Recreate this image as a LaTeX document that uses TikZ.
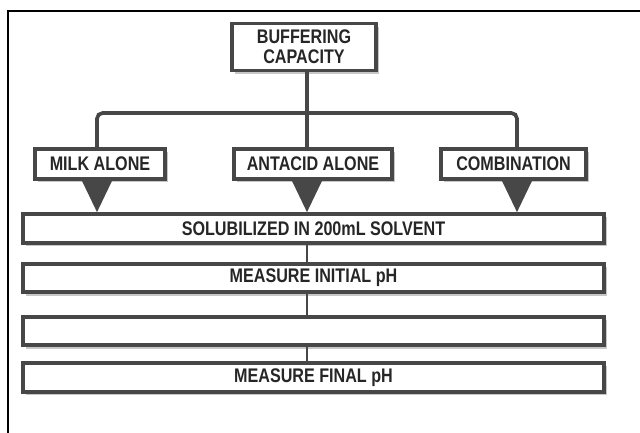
\documentclass[tikz,border=0pt]{standalone}
\usepackage{fontspec}
\setmainfont{Liberation Sans}
\newfontfamily\boxfont[FakeStretch=0.82]{Liberation Sans}
\usetikzlibrary{shadows}

\tikzset{
  stepbox/.style={draw=black!72, line width=2.8pt, fill=white, text=black!85,
    font=\boxfont\bfseries\fontsize{14}{14.4}\selectfont, inner sep=0pt, align=center,
    drop shadow={shadow xshift=2.4pt, shadow yshift=-2.4pt, fill=black!22, opacity=1}},
  widebox/.style={stepbox, minimum width=14.525cm, minimum height=0.72cm},
  trunk/.style={draw=black!72, line width=2.6pt},
  thinlink/.style={draw=black!72, line width=1.6pt},
  pointer/.style={fill=black!72}
}

\begin{document}
\begin{tikzpicture}[x=0.025cm, y=-0.025cm]
            \useasboundingbox (0,0) rectangle (640,433);
            \draw [line width = 1.2pt](8,433)--(8,11)--(640,11);
            % top box and the three cases
            \node [stepbox, minimum width=3.6cm, minimum height=1.175cm] (buff) at (304,47) {BUFFERING\\CAPACITY};
            \node [stepbox, minimum width=3.25cm, minimum height=0.75cm] (milk) at (100,164) {MILK ALONE};
            \node [stepbox, minimum width=3.95cm, minimum height=0.75cm] (antacid) at (313,164) {ANTACID ALONE};
            \node [stepbox, minimum width=3.625cm, minimum height=0.75cm] (combo) at (513.5,164) {COMBINATION};
            % steps
            \node [widebox] (solub) at (313.5,228.5) {SOLUBILIZED IN 200mL SOLVENT};
            \node [widebox] (initial) at (313.5,278) {MEASURE INITIAL pH};
            \node [widebox] (blank) at (313.5,331) {};
            \node [widebox] (final) at (313.5,377.5) {MEASURE FINAL pH};
            \coordinate (dropm) at (97,113);
            \coordinate (dropa) at (307,113);
            \coordinate (dropc) at (517,113);
            \draw [trunk](dropa |- buff.south)--(dropa |- antacid.north);
            \draw [trunk, rounded corners=4pt](dropm |- milk.north)--(dropm)--(dropc)--(dropc |- combo.north);
            \foreach \d/\n in {dropm/milk, dropa/antacid, dropc/combo}
              \fill [pointer](\d |- \n.south) ++(-15,0) -- ++(30,0) -- (\d |- solub.north) -- cycle;
            \draw [thinlink](dropa |- solub.south)--(dropa |- initial.north);
            \draw [thinlink](dropa |- initial.south)--(dropa |- blank.north);
            \draw [thinlink](dropa |- blank.south)--(dropa |- final.north);
\end{tikzpicture}
\end{document}
